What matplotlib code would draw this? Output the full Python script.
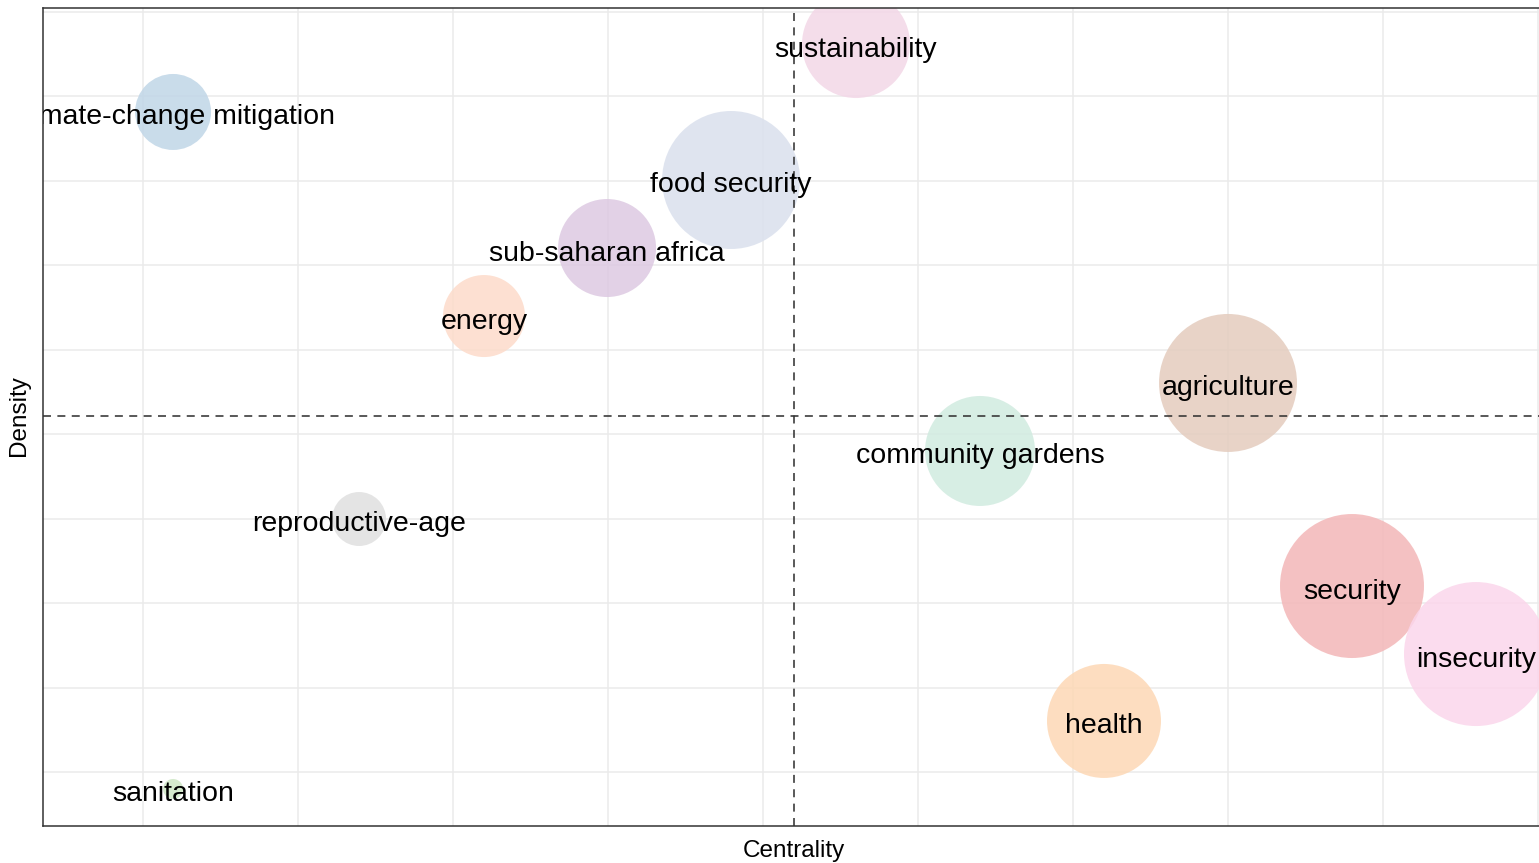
import matplotlib
matplotlib.use("Agg")
import matplotlib.pyplot as plt

# ---- data ----
labels = ["sustainability", "climate-change mitigation", "food security",
          "sub-saharan africa", "energy", "agriculture", "community gardens",
          "reproductive-age", "security", "insecurity", "health", "sanitation"]
centrality = [5.6, 1.194, 4.794, 3.994, 3.2, 8.0, 6.4, 2.394, 8.8, 9.6, 7.2, 1.194]
density = [8.615, 7.811, 7.006, 6.201, 5.396, 4.604, 3.799, 2.994, 2.201, 1.396, 0.604, -0.201]
bubble_radius = [54, 38, 69, 49, 41, 69, 55, 27, 72, 72, 57, 10]
colors = ["#F3D7E7", "#C0D6E7", "#DAE0ED", "#DDC9E2", "#FDDBCA", "#E4CCBE",
          "#D1EBE0", "#E0E0E0", "#F3B7B8", "#FBD6EB", "#FDD8B5", "#CEE7C5"]
centrality_mid = 5.2
density_mid = 4.213
x_grid = [1, 2, 3, 4, 5, 6, 7, 8, 9, 10]
y_grid = [-0.0, 1, 2, 3, 4, 5, 6, 7, 8, 9]

plt.rcParams['font.family'] = ['Liberation Sans', 'DejaVu Sans']

W, H = 1539, 863
fig = plt.figure(figsize=(W / 100, H / 100), dpi=100)
left, right, top, bottom = 43, 1542, 8, 826
ax = fig.add_axes([left / W, 1 - bottom / H, (right - left) / W, (bottom - top) / H])

ax.set_xlim((left - 143) / 155 + 1, (right - 143) / 155 + 1)
ax.set_ylim((772 - bottom) / 84.5, (772 - top) / 84.5)

for gx in x_grid:
    ax.axvline(gx, color="#EBEBEB", lw=1.1, zorder=0)
for gy in y_grid:
    ax.axhline(gy, color="#EBEBEB", lw=1.1, zorder=0)

sizes = [(2 * r * 0.72) ** 2 for r in bubble_radius]
ax.scatter(centrality, density, s=sizes, c=colors, alpha=0.85, edgecolors="none", zorder=2)

ax.axvline(centrality_mid, color="#333333", lw=1.15, ls=(0, (5, 4)), zorder=3)
ax.axhline(density_mid, color="#333333", lw=1.15, ls=(0, (5, 4)), zorder=3)

for lab, x, y in zip(labels, centrality, density):
    ax.text(x, y - 0.065, lab, ha="center", va="center", fontsize=20.5, color="black",
            zorder=4, clip_on=True)

ax.set_xticks([])
ax.set_yticks([])
for sp in ax.spines.values():
    sp.set_color("#333333")
    sp.set_linewidth(1.1)

fig.text(794 / W, 1 - 851 / H, "Centrality", ha="center", va="center", fontsize=17.5)
fig.text(19 / W, 1 - 416 / H, "Density", ha="center", va="center", fontsize=17.5, rotation=90)

fig.savefig("out.png", dpi=100, facecolor="white")
